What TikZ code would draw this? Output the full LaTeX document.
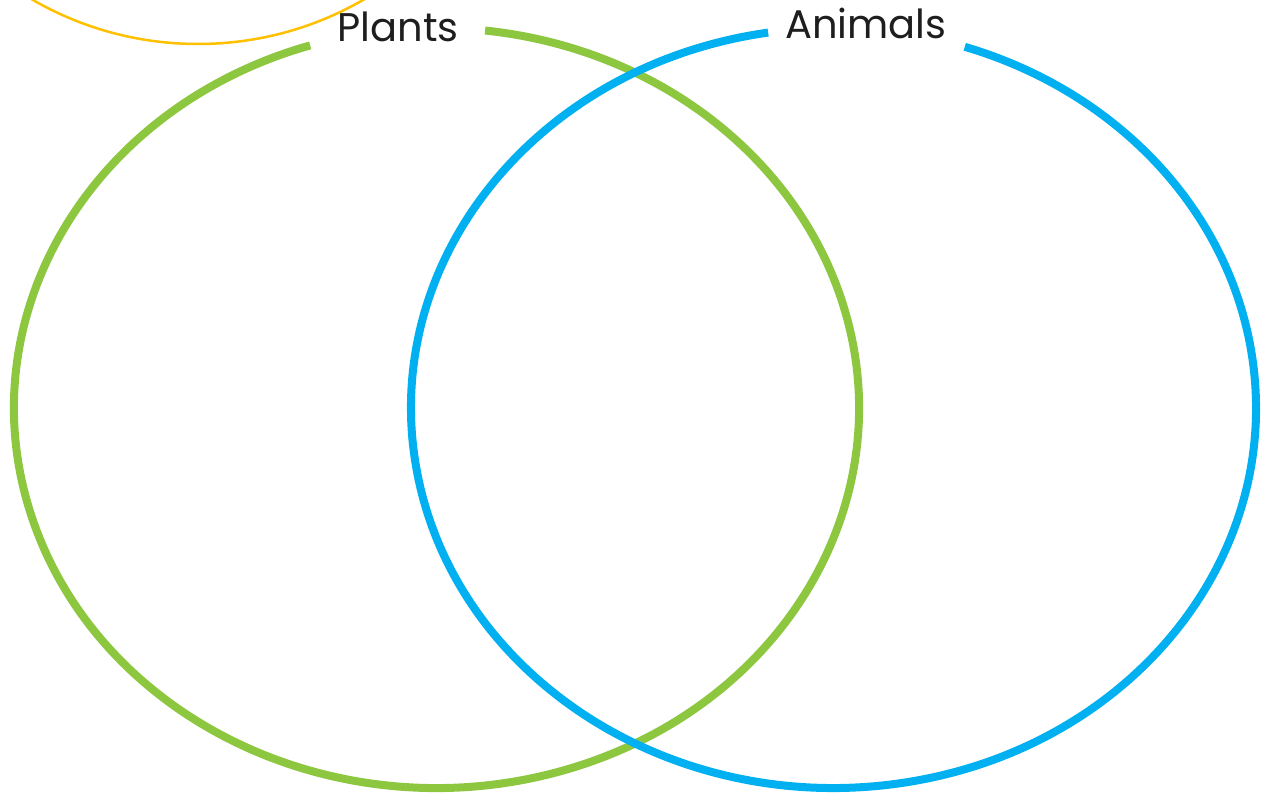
\documentclass[tikz,border=0pt]{standalone}
\usepackage{fontspec}
\setmainfont{Poppins}
\definecolor{plantgreen}{RGB}{141,198,63}
\definecolor{animalblue}{RGB}{0,176,240}
\definecolor{goldline}{RGB}{255,192,0}
\definecolor{labeltext}{RGB}{30,30,30}
\tikzset{
  ring/.style={line width=8pt},
  lbl/.style={font=\fontsize{40}{48}\selectfont, text=labeltext, inner sep=0pt, anchor=base}
}
\begin{document}
\begin{tikzpicture}[x=1pt,y=1pt]
\useasboundingbox (0,0) rectangle (1265,795);
\begin{scope}
\clip (0,0) rectangle (1265,795);
% gold partial circle at top left
\draw[goldline, line width=2.5pt] (198,1082) circle[radius=331];
% green ellipse (Plants)
\coordinate (gc) at (436.5,387);
\draw[ring, plantgreen] (gc) ++(107.4:422.5 and 380)
  arc[start angle=107.4, end angle=443.4, x radius=422.5, y radius=380];
% blue ellipse (Animals)
\coordinate (bc) at (833.5,387);
\draw[ring, animalblue] (bc) ++(98.9:422.5 and 380)
  arc[start angle=98.9, end angle=431.9, x radius=422.5, y radius=380];
\end{scope}
\node[lbl] (plants) at (398,753) {Plants};
\node[lbl] (animals) at (866,756) {Animals};
\end{tikzpicture}
\end{document}
